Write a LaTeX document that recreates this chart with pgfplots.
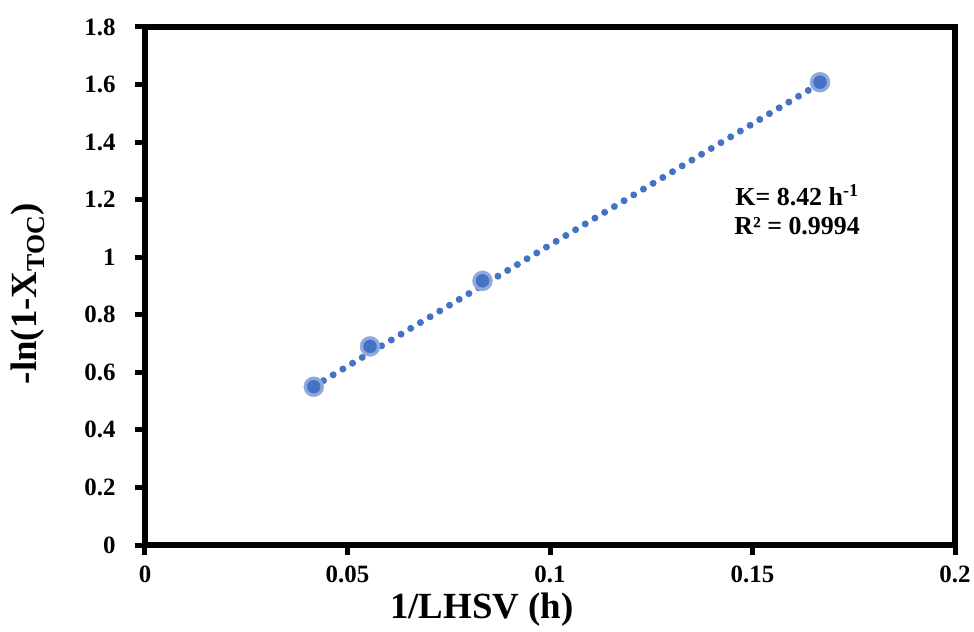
\documentclass[border=0pt]{standalone}
\usepackage{fontspec}
\setmainfont{Liberation Serif}
\usepackage{pgfplots}
\pgfplotsset{compat=1.18}
\definecolor{exblue}{HTML}{4472C4}
\definecolor{halo}{HTML}{8EA9DB}

\begin{document}
\begin{tikzpicture}
\begin{axis}[
  scale only axis,
  width=810bp, height=518bp,
  xmin=0, xmax=0.2, ymin=0, ymax=1.8,
  xtick={0,0.05,0.1,0.15,0.2},
  ytick={0,0.2,...,1.8},
  xtick pos=bottom, ytick pos=left,
  tick align=outside,
  major tick length=10bp,
  every tick/.style={black, line width=5bp},
  axis line style={line width=6bp, black},
  /pgf/number format/assume math mode=true,
  /pgf/number format/fixed,
  /pgf/number format/precision=2,
  tick label style={font=\bfseries\fontsize{25}{25}\selectfont},
  xticklabel style={yshift=-7bp},
  yticklabel style={xshift=-16bp},
  xlabel={1/LHSV (h)},
  ylabel={-ln(1-X\textsubscript{TOC})},
  label style={font=\bfseries\fontsize{37}{37}\selectfont},
  xlabel style={at={(axis description cs:0.416,-0.125)}, anchor=center},
  ylabel style={at={(axis description cs:-0.1444,0.485)}, anchor=center},
]
% linear trendline
\addplot[exblue, line width=7bp, line cap=round, dash pattern=on 0pt off 11.3bp]
  coordinates {(0.04167,0.551) (0.16667,1.604)};
% halo of markers
\addplot[halo, only marks, mark=*, mark size=10bp, mark options={draw=none, fill=halo}]
  coordinates {(0.04167,0.550) (0.05556,0.690) (0.08333,0.918) (0.16667,1.608)};
% core of markers
\addplot[exblue, only marks, mark=*, mark size=6.5bp, mark options={draw=none, fill=exblue}]
  coordinates {(0.04167,0.550) (0.05556,0.690) (0.08333,0.918) (0.16667,1.608)};
\node[font=\bfseries\fontsize{26}{30}\selectfont, align=center]
  at (axis cs:0.161,1.165) {K= 8.42 h\textsuperscript{-1}\\R² = 0.9994};
\end{axis}
\path[use as bounding box] (-145bp,-87bp) rectangle (829bp,545bp);
\end{tikzpicture}
\end{document}
